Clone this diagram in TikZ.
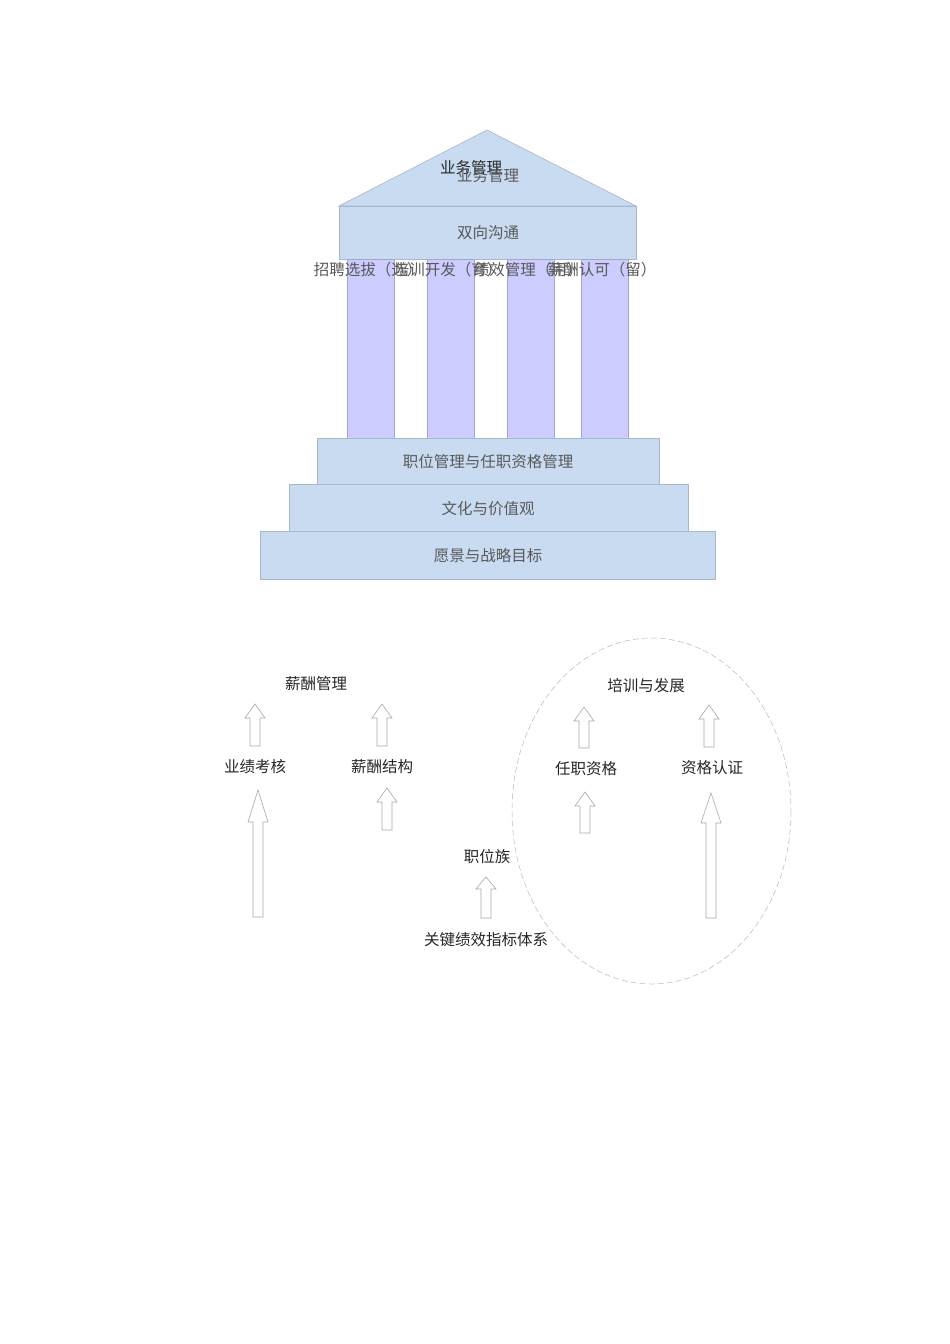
\documentclass[tikz,border=0pt]{standalone}
\usepackage{fontspec}
\newfontfamily\cjk{Noto Sans CJK SC}
\definecolor{roofblue}{HTML}{C9DBF1}
\definecolor{roofedge}{HTML}{A7B7CC}
\definecolor{colfill}{HTML}{CCCCFF}
\definecolor{coledge}{HTML}{A6A6CC}
\definecolor{txtgray}{HTML}{595959}
\definecolor{arredge}{HTML}{A8A8A8}
\newcommand{\blockarr}[4]{%
  \draw[arrowbox] (#1-5,#2) -- (#1-5,#3+#4) -- (#1-10,#3+#4) -- (#1,#3) -- (#1+10,#3+#4) -- (#1+5,#3+#4) -- (#1+5,#2) -- cycle;}
\begin{document}
\begin{tikzpicture}[x=1pt,y=-1pt,
  temple/.style={fill=roofblue,draw=roofedge,line width=0.6pt},
  column/.style={fill=colfill,draw=coledge,line width=0.6pt},
  ttext/.style={font=\cjk\fontsize{15.5}{18}\selectfont,text=txtgray,inner sep=0pt},
  ltext/.style={font=\cjk\fontsize{15.5}{18}\selectfont,text=black!85,inner sep=0pt},
  arrowbox/.style={draw=arredge,fill=white,line width=0.6pt}]
\useasboundingbox (0,0) rectangle (950,1344);
\fill[white] (0,0) rectangle (950,1344);
% roof
\draw[temple] (339,206) -- (487,130) -- (636,206) -- cycle;
\draw[temple] (339,206) rectangle (636,259);
% columns
\draw[column] (347,259) rectangle (394,438);
\draw[column] (427,259) rectangle (474,438);
\draw[column] (507,259) rectangle (554,438);
\draw[column] (581,259) rectangle (628,438);
% steps
\draw[temple] (317,438) rectangle (659,484);
\draw[temple] (289,484) rectangle (688,531);
\draw[temple] (260,531) rectangle (715,579);
% temple texts
\node[ltext] (ywA) at (471,168) {业务管理};
\node[ttext] (ywB) at (488,176) {业务管理};
\node[ttext] (sx) at (488,233) {双向沟通};
\node[ttext] (c1) at (368,270) {招聘选拔（选）};
\node[ttext] (c2) at (448,270) {培训开发（育）};
\node[ttext] (c3) at (528,270) {绩效管理（用）};
\node[ttext] (c4) at (602,270) {薪酬认可（留）};
\node[ttext] (s1) at (488,462) {职位管理与任职资格管理};
\node[ttext] (s2) at (488,509) {文化与价值观};
\node[ttext] (s3) at (488,556) {愿景与战略目标};
% lower diagram
\draw[arredge!80,dashed,dash pattern=on 6pt off 3pt,line width=0.5pt] (651.5,811) ellipse [x radius=139.5,y radius=173];
\node[ltext] (xcgl) at (316,684) {薪酬管理};
\node[ltext] (pxfz) at (646,686) {培训与发展};
\node[ltext] (yjkh) at (255,767) {业绩考核};
\node[ltext] (xcjg) at (382,767) {薪酬结构};
\node[ltext] (rzzg) at (586,769) {任职资格};
\node[ltext] (zgrz) at (712,768) {资格认证};
\node[ltext] (zwz) at (487,857) {职位族};
\node[ltext] (kpi) at (486,940) {关键绩效指标体系};
% block arrows
\blockarr{255}{746}{704}{14}
\blockarr{382}{746}{704}{14}
\blockarr{387}{830}{788}{14}
\blockarr{258}{917}{790}{32}
\blockarr{486}{918}{877}{12}
\blockarr{584}{748}{707}{14}
\blockarr{709}{747}{705}{14}
\blockarr{585}{833}{792}{14}
\blockarr{711}{918}{793}{30}
\end{tikzpicture}
\end{document}
